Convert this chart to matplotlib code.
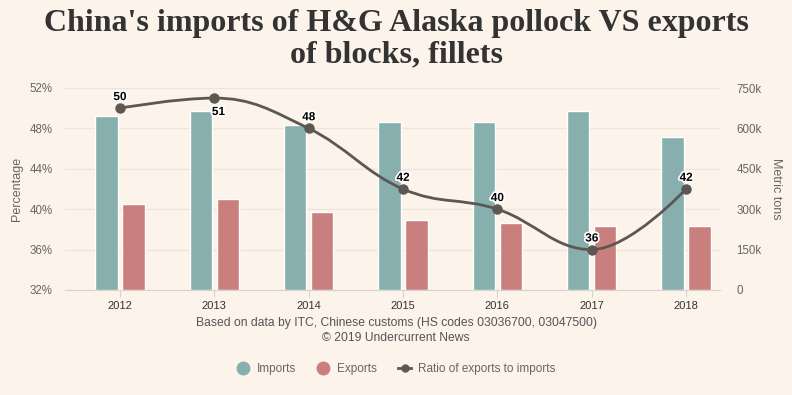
import matplotlib
matplotlib.use("Agg")
import matplotlib.pyplot as plt
from matplotlib.path import Path
from matplotlib.patches import PathPatch
from matplotlib.lines import Line2D
import matplotlib.patheffects as pe

years = ["2012", "2013", "2014", "2015", "2016", "2017", "2018"]
imports_t = [647000, 665000, 614000, 625000, 625000, 665000, 569000]
exports_t = [319000, 338000, 291000, 260000, 249000, 238000, 238000]
ratio_pct = [50, 51, 48, 42, 40, 36, 42]

BG = "#fcf3eb"
TEAL = "#87afae"
RED = "#c97f7d"
LINE = "#5c5752"
GRID = "#f0e4da"
TXT = "#666666"

plt.rcParams["font.family"] = ["Liberation Sans", "DejaVu Sans"]


def spline_path(xs, ys, smoothing=1.5):
    # highcharts-style spline: cubic bezier segments through each point
    n = len(xs)
    denom = smoothing + 1
    left = [(xs[i], ys[i]) for i in range(n)]
    right = [(xs[i], ys[i]) for i in range(n)]
    for i in range(1, n - 1):
        px, py = xs[i], ys[i]
        lx, ly = xs[i - 1], ys[i - 1]
        nx, ny = xs[i + 1], ys[i + 1]
        lcx = (smoothing * px + lx) / denom
        lcy = (smoothing * py + ly) / denom
        rcx = (smoothing * px + nx) / denom
        rcy = (smoothing * py + ny) / denom
        corr = (rcy - lcy) * (rcx - px) / (rcx - lcx) + py - rcy
        lcy += corr
        rcy += corr
        if lcy > ly and lcy > py:
            lcy = max(ly, py)
            rcy = 2 * py - lcy
        elif lcy < ly and lcy < py:
            lcy = min(ly, py)
            rcy = 2 * py - lcy
        if rcy > ny and rcy > py:
            rcy = max(ny, py)
            lcy = 2 * py - rcy
        elif rcy < ny and rcy < py:
            rcy = min(ny, py)
            lcy = 2 * py - rcy
        left[i] = (lcx, lcy)
        right[i] = (rcx, rcy)
    verts = [(xs[0], ys[0])]
    codes = [Path.MOVETO]
    for i in range(1, n):
        verts += [right[i - 1], left[i], (xs[i], ys[i])]
        codes += [Path.CURVE4] * 3
    return Path(verts, codes)


fig = plt.figure(figsize=(7.92, 3.95), dpi=100, facecolor=BG)
ax = fig.add_axes([65 / 792, 105 / 395, 655 / 792, 202 / 395])
ax2 = ax.twinx()
ax2.set_facecolor(BG)

x = list(range(len(years)))
w = 0.235
off = 0.143
ax2.bar([i - off for i in x], imports_t, width=w, color=TEAL,
        edgecolor="white", linewidth=1, zorder=2)
ax2.bar([i + off for i in x], exports_t, width=w, color=RED,
        edgecolor="white", linewidth=1, zorder=2)
ax2.set_ylim(0, 750000)
ax2.set_yticks([0, 150000, 300000, 450000, 600000, 750000])
ax2.set_yticklabels(["0", "150k", "300k", "450k", "600k", "750k"])
ax2.grid(axis="y", color=GRID, linewidth=1, zorder=0)
ax2.set_axisbelow(True)

ax.set_ylim(32, 52)
ax.set_yticks([32, 36, 40, 44, 48, 52])
ax.set_yticklabels(["32%", "36%", "40%", "44%", "48%", "52%"])
ax.set_xlim(-0.583, 6.36)
ax.set_xticks(x)
ax.set_xticklabels(years)

# line on top of bars
ax.set_zorder(ax2.get_zorder() + 1)
ax.patch.set_visible(False)

curve = PathPatch(spline_path(x, ratio_pct), facecolor="none",
                  edgecolor=LINE, linewidth=2, zorder=3)
ax.add_patch(curve)
ax.plot(x, ratio_pct, "o", color=LINE, markersize=6.5, zorder=4)

for i, v in enumerate(ratio_pct):
    dxy = (3, -10) if i == 1 else (0, 8)
    ax.annotate(str(v), xy=(i, v), xytext=dxy, textcoords="offset points",
                ha="center", va="center", fontsize=8.5, fontweight="bold",
                color="black", zorder=5,
                path_effects=[pe.withStroke(linewidth=2.5, foreground="white")])

for a in (ax, ax2):
    for s in a.spines.values():
        s.set_visible(False)
ax.spines["bottom"].set_visible(True)
ax.spines["bottom"].set_color("#d8d2cc")
ax.tick_params(axis="x", colors="#d8d2cc", length=5, labelcolor="#333333",
               labelsize=8, pad=3)
ax.tick_params(axis="y", length=0, labelcolor=TXT, labelsize=8.3, pad=9)
ax2.tick_params(axis="y", length=0, labelcolor=TXT, labelsize=8.3, pad=12)

ax.set_ylabel("Percentage", color=TXT, fontsize=9, va="center")
ax.yaxis.set_label_coords(-0.073, 0.5)
ax2.set_ylabel("Metric tons", color=TXT, fontsize=9, rotation=270,
               va="center")
ax2.yaxis.set_label_coords(1.0855, 0.5)

fig.text(0.5, 1 - 23 / 395, "China's imports of H&G Alaska pollock VS exports",
         ha="center", va="center", fontsize=23, fontweight="bold",
         family="Liberation Serif", color="#333333")
fig.text(0.5, 1 - 55 / 395, "of blocks, fillets",
         ha="center", va="center", fontsize=23, fontweight="bold",
         family="Liberation Serif", color="#333333")

fig.text(0.5, 1 - 323 / 395,
         "Based on data by ITC, Chinese customs (HS codes 03036700, 03047500)",
         ha="center", va="center", fontsize=8.7, color="#555555")
fig.text(0.5, 1 - 338 / 395, "\u00a9 2019 Undercurrent News",
         ha="center", va="center", fontsize=8.7, color="#555555")

handles = [
    Line2D([], [], marker="o", linestyle="none", color=TEAL, markersize=9),
    Line2D([], [], marker="o", linestyle="none", color=RED, markersize=9),
    Line2D([], [], marker="o", color=LINE, linewidth=2, markersize=5),
]
leg = fig.legend(handles, ["Imports", "Exports", "Ratio of exports to imports"],
                 loc="center", bbox_to_anchor=(0.5, 1 - 369 / 395), ncol=3,
                 frameon=False, fontsize=8.5, handlelength=1.1,
                 columnspacing=1.8, handletextpad=0.6)
for t in leg.get_texts():
    t.set_color(TXT)

fig.savefig("out.png", dpi=100, facecolor=BG)
